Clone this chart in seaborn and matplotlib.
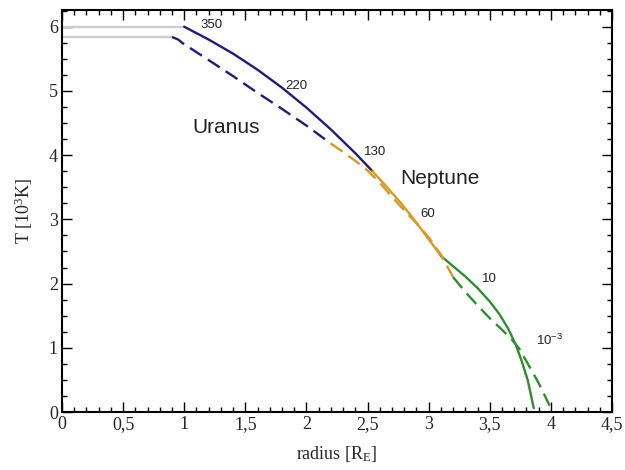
import matplotlib
matplotlib.use("Agg")
import matplotlib.pyplot as plt
import seaborn as sns
import numpy as np
from matplotlib.ticker import MultipleLocator, FuncFormatter

# adiabats, solid model
r_solid_deep = [1.00, 1.20, 1.40, 1.60, 1.80, 2.00, 2.20, 2.40, 2.54]
T_solid_deep = [6.00, 5.80, 5.58, 5.33, 5.05, 4.74, 4.40, 4.03, 3.75]
r_solid_mid = [2.54, 2.65, 2.77, 2.85, 2.93, 3.02, 3.10]
T_solid_mid = [3.75, 3.52, 3.26, 3.07, 2.87, 2.64, 2.43]
r_solid_out = [3.10, 3.20, 3.30, 3.40, 3.50, 3.58, 3.65, 3.71, 3.76, 3.81, 3.86]
T_solid_out = [2.43, 2.27, 2.11, 1.93, 1.72, 1.52, 1.30, 1.06, 0.80, 0.50, 0.06]

# adiabats, dashed model
r_dash_deep = [0.90, 0.95, 0.99, 1.20, 1.40, 1.60, 1.80, 2.00, 2.20]
T_dash_deep = [5.84, 5.80, 5.74, 5.48, 5.23, 4.97, 4.72, 4.46, 4.18]
r_dash_mid = [2.20, 2.30, 2.40, 2.50, 2.60, 2.70, 2.80, 2.90, 3.00, 3.10, 3.20]
T_dash_mid = [4.18, 4.05, 3.91, 3.76, 3.57, 3.35, 3.14, 2.94, 2.72, 2.45, 2.10]
r_dash_out = [3.20, 3.30, 3.40, 3.50, 3.60, 3.68, 3.74, 3.80, 3.90, 3.99]
T_dash_out = [2.10, 1.87, 1.66, 1.46, 1.28, 1.13, 0.99, 0.79, 0.45, 0.10]

# isothermal cores (grey)
r_core = [0.0, 1.00]
T_core = [6.00, 6.00]
r_core_dash = [0.0, 0.90]
T_core_dash = [5.84, 5.84]

# pressure labels
p_labels = ["350", "220", "130", "60", "10", "$\\mathsf{10^{-3}}$"]
p_r = [1.13, 1.83, 2.47, 2.93, 3.44, 3.88]
p_T = [6.02, 5.08, 4.05, 3.09, 2.07, 1.12]

navy = "#211c78"
orange = "#d99a1f"
green = "#2f8f2f"
grey = "#cccccc"

sns.set_style("ticks")
plt.rcParams["font.family"] = ["Liberation Serif", "DejaVu Serif"]
plt.rcParams["mathtext.fontset"] = "custom"
plt.rcParams["mathtext.rm"] = "Liberation Serif"
plt.rcParams["mathtext.it"] = "Liberation Serif:italic"
plt.rcParams["mathtext.sf"] = "Liberation Sans"

fig = plt.figure(figsize=(6.25, 4.7), dpi=100)
ax = fig.add_axes([0.0992, 0.1234, 0.8800, 0.8553])

sns.lineplot(x=r_core, y=T_core, color=grey, lw=1.7, ax=ax)
sns.lineplot(x=r_core_dash, y=T_core_dash, color=grey, lw=1.7, ax=ax)

for r, T, c in [(r_solid_deep, T_solid_deep, navy),
                (r_solid_mid, T_solid_mid, orange),
                (r_solid_out, T_solid_out, green)]:
    sns.lineplot(x=r, y=T, color=c, lw=1.7, ax=ax)

for r, T, c in [(r_dash_deep, T_dash_deep, navy),
                (r_dash_mid, T_dash_mid, orange),
                (r_dash_out, T_dash_out, green)]:
    sns.lineplot(x=r, y=T, color=c, lw=1.7, linestyle=(0, (6, 3)), ax=ax)

for lab, x, y in zip(p_labels, p_r, p_T):
    ax.text(x, y, lab, family="Liberation Sans", fontsize=9.5,
            ha="left", va="center", color="#222222")

ax.text(1.07, 4.43, "Uranus", family="Liberation Sans", fontsize=15,
        ha="left", va="center", color="#222222")
ax.text(2.77, 3.63, "Neptune", family="Liberation Sans", fontsize=15,
        ha="left", va="center", color="#222222")

ax.set_xlim(0, 4.5)
ax.set_ylim(0, 6.26)
ax.xaxis.set_major_locator(MultipleLocator(0.5))
ax.xaxis.set_minor_locator(MultipleLocator(0.1))
ax.yaxis.set_major_locator(MultipleLocator(1))
ax.yaxis.set_minor_locator(MultipleLocator(0.25))
fmt = FuncFormatter(lambda v, p: f"{v:g}".replace(".", ","))
ax.xaxis.set_major_formatter(fmt)
ax.yaxis.set_major_formatter(fmt)

ax.tick_params(which="both", direction="in", top=True, right=True,
               width=1, color="black")
ax.tick_params(which="major", length=7, labelsize=13, pad=3)
ax.tick_params(which="minor", length=3.5)
for s in ax.spines.values():
    s.set_linewidth(1.5)
    s.set_color("black")

ax.set_xlabel("radius [R$_{\\mathrm{E}}$]", fontsize=13, labelpad=8)
ax.set_ylabel("T [10$^{3}$K]", fontsize=13, labelpad=10)

fig.savefig("out.png", dpi=100)
